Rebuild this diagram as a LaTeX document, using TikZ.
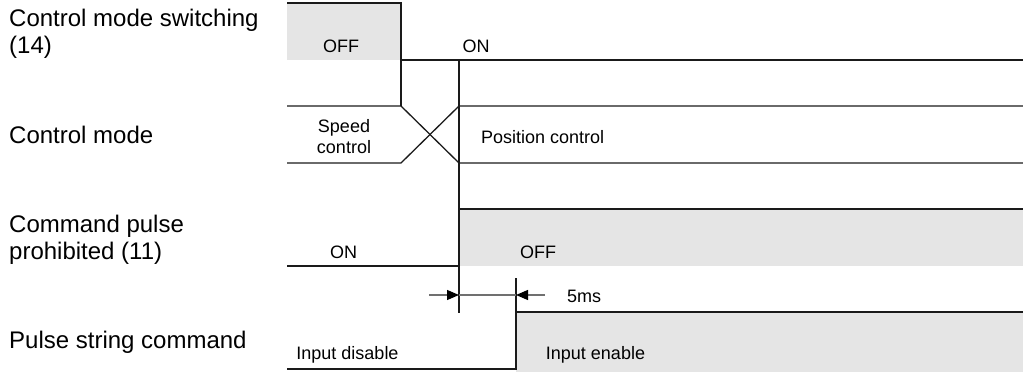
\documentclass[tikz,border=0pt]{standalone}
\usepackage{fontspec}
\setmainfont{Liberation Sans}
\usetikzlibrary{arrows.meta}
\definecolor{sigline}{HTML}{1A1A1A}
\definecolor{sigfill}{HTML}{E5E5E5}
\definecolor{dimline}{HTML}{707070}
\begin{document}
\begin{tikzpicture}[x=1pt,y=-1pt,
  sig/.style={draw=sigline,line width=1.3pt,line join=miter},
  shade/.style={fill=sigfill,draw=none},
  biglabel/.style={font=\fontsize{24}{27}\selectfont,inner sep=0pt,anchor=base west,align=left},
  smalllabel/.style={font=\fontsize{18}{21}\selectfont,inner sep=0pt,align=center,text=black},
  dimarrow/.style={draw=dimline,line width=1.2pt,-{Triangle[length=12pt,width=10pt,fill=black,color=black]}}]
\useasboundingbox (0,0) rectangle (1023,372);
% shaded regions
\fill[shade] (287,3) rectangle (401,60);
\fill[shade] (459,209) rectangle (1023,266);
\fill[shade] (516,312) rectangle (1023,372);
% key coordinates
\coordinate (sw) at (401,3);
\coordinate (sw2) at (401,60);
\coordinate (t1) at (459,60);
\coordinate (t1b) at (459,313);
\coordinate (t2a) at (516,278);
\coordinate (t2) at (516,312);
% row 1: control mode switching
\draw[sig] (287,3) -- (sw) -- (sw2) -- (1023,60);
\draw[sig] (sw2) -- (401,106);
% main transition line
\draw[sig] (t1) -- (t1b);
% row 2: control mode
\draw[sig] (287,106) -- (401,106) -- (459,163) -- (1023,163);
\draw[sig] (287,163) -- (401,163) -- (459,106) -- (1023,106);
% row 3: command pulse prohibited
\draw[sig] (287,266) -- (459,266) -- (459,209) -- (1023,209);
% row 4: pulse string command
\draw[sig] (287,369) -- (516,369) -- (t2) -- (1023,312);
\draw[sig] (t2a) -- (t2);
% 5ms dimension
\coordinate (al) at (429,295);
\coordinate (ar) at (545,295);
\coordinate (tl) at (459,295);
\coordinate (tr) at (516,295);
\draw[draw=dimline,line width=1.2pt] (tl) -- (tr);
\draw[dimarrow] (al) -- (tl);
\draw[dimarrow] (ar) -- (tr);
% left labels
\node[biglabel] (l1) at (9,53) {Control mode switching\\(14)};
\node[biglabel] (l2) at (9,143) {Control mode};
\node[biglabel] (l3) at (9,259) {Command pulse\\prohibited (11)};
\node[biglabel] (l4) at (9,348) {Pulse string command};
% signal labels
\node[smalllabel] (off1) at (341,46) {OFF};
\node[smalllabel] (on1) at (476,46) {ON};
\node[smalllabel] (spd) at (344,137) {Speed\\control};
\node[smalllabel,anchor=west] (pos) at (481,137) {Position control};
\node[smalllabel] (on3) at (343.5,252) {ON};
\node[smalllabel] (off3) at (538,252) {OFF};
\node[smalllabel] (ms) at (584,296) {5ms};
\node[smalllabel] (idis) at (347.5,355) {Input disable};
\node[smalllabel] (ien) at (595.5,355) {Input enable};
\end{tikzpicture}
\end{document}
